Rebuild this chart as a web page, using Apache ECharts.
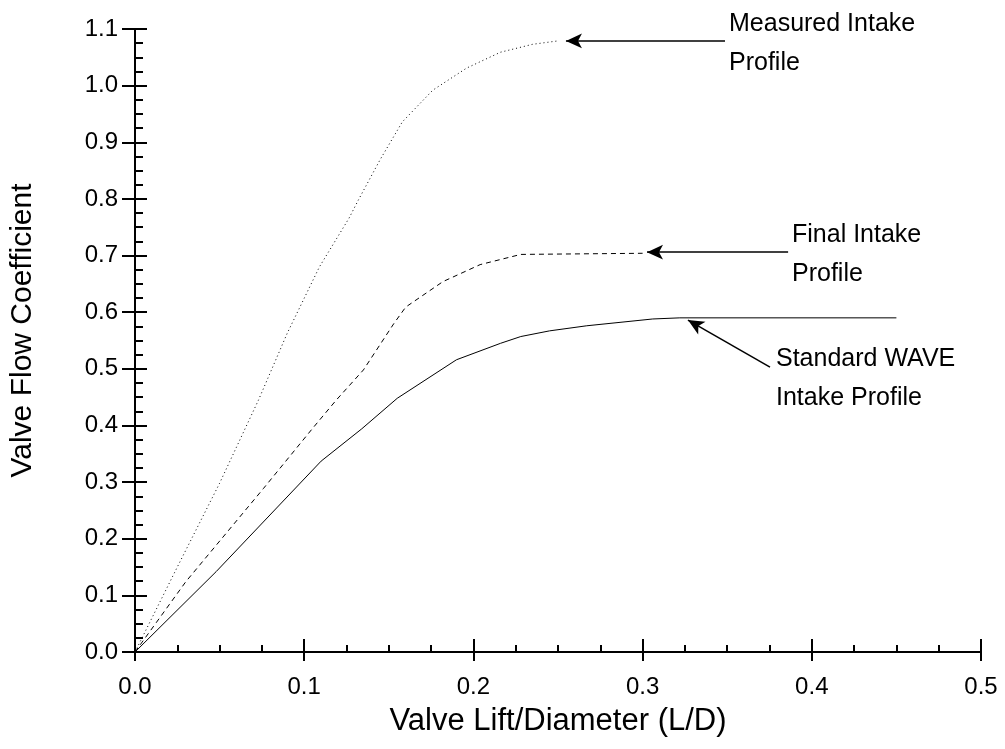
<!DOCTYPE html>
<html>
<head>
<meta charset="utf-8">
<script src="https://cdn.jsdelivr.net/npm/echarts@6/dist/echarts.min.js"></script>
<style>
html, body { margin: 0; padding: 0; background: #fff; }
#chart { width: 1005px; height: 749px; }
</style>
</head>
<body>
<div id="chart"></div>
<script>
// Valve lift / diameter (x) vs flow coefficient (y)
const measuredLD = [0, 0.025, 0.05, 0.073, 0.09, 0.109, 0.1265, 0.132, 0.145, 0.158, 0.176, 0.196, 0.216, 0.235, 0.25]
const measuredCf = [0, 0.15, 0.298, 0.445, 0.563, 0.68, 0.766, 0.798, 0.87, 0.936, 0.992, 1.031, 1.059, 1.073, 1.079]

const finalLD = [0, 0.03, 0.076, 0.105, 0.119, 0.135, 0.153, 0.16, 0.182, 0.204, 0.228, 0.30]
const finalCf = [0, 0.124, 0.289, 0.395, 0.445, 0.498, 0.58, 0.609, 0.654, 0.684, 0.702, 0.704]

const standardLD = [0, 0.048, 0.11, 0.134, 0.155, 0.19, 0.216, 0.228, 0.245, 0.267, 0.306, 0.322, 0.45]
const standardCf = [0, 0.142, 0.337, 0.394, 0.448, 0.516, 0.545, 0.557, 0.567, 0.576, 0.588, 0.59, 0.59]

// annotation arrows: [tail, tip] in data units
const arrows = [
  [[0.3487, 1.079], [0.2547, 1.079]],
  [[0.386, 0.706], [0.3026, 0.706]],
  [[0.3753, 0.503], [0.3268, 0.586]]
]
const notes = [
  { text: 'Measured Intake\nProfile', left: 729, top: 5 },
  { text: 'Final Intake\nProfile', left: 792, top: 216 },
  { text: 'Standard WAVE\nIntake Profile', left: 776, top: 340 }
]

const font = 'Liberation Sans, Arial, sans-serif'
const zip = (xs, ys) => xs.map((x, i) => [x, ys[i]])

const baseAxis = {
  type: 'value',
  splitLine: { show: false },
  axisLine: { show: true, onZero: false, lineStyle: { color: '#000', width: 2 } }
}

const option = {
  animation: false,
  backgroundColor: '#fff',
  grid: { left: 135, right: 24, top: 29, bottom: 97, outerBoundsMode: 'none' },
  xAxis: [
    {
      ...baseAxis,
      position: 'bottom',
      min: 0,
      max: 0.5,
      interval: 0.1,
      name: 'Valve Lift/Diameter (L/D)',
      nameLocation: 'middle',
      nameGap: 54,
      nameTextStyle: { fontFamily: font, fontSize: 31, color: '#000' },
      axisTick: { show: true, inside: true, length: 13, lineStyle: { color: '#000', width: 2 } },
      minorTick: { show: true, splitNumber: 4, length: 7, lineStyle: { color: '#000', width: 2 } },
      axisLabel: {
        margin: 23,
        fontFamily: font,
        fontSize: 24,
        color: '#000',
        formatter: v => v.toFixed(1)
      }
    },
    {
      ...baseAxis,
      position: 'bottom',
      min: 0,
      max: 0.5,
      interval: 0.1,
      axisLine: { show: false },
      axisTick: { show: true, inside: false, length: 9, lineStyle: { color: '#000', width: 2 } },
      axisLabel: { show: false }
    }
  ],
  yAxis: [
    {
      ...baseAxis,
      position: 'left',
      min: 0,
      max: 1.1,
      interval: 0.1,
      name: 'Valve Flow Coefficient',
      nameLocation: 'middle',
      nameGap: 97,
      nameTextStyle: { fontFamily: font, fontSize: 30, color: '#000', padding: [0, 0, 0, 20] },
      axisTick: { show: true, inside: true, length: 12, lineStyle: { color: '#000', width: 2 } },
      minorTick: { show: true, splitNumber: 4, length: 8, lineStyle: { color: '#000', width: 2 } },
      axisLabel: {
        margin: 17,
        fontFamily: font,
        fontSize: 24,
        color: '#000',
        formatter: v => v.toFixed(1)
      }
    },
    {
      ...baseAxis,
      position: 'left',
      min: 0,
      max: 1.1,
      interval: 0.1,
      axisLine: { show: false },
      axisTick: { show: true, inside: false, length: 13, lineStyle: { color: '#000', width: 2 } },
      axisLabel: { show: false }
    }
  ],
  graphic: notes.map(n => ({
    type: 'text',
    left: n.left,
    top: n.top,
    style: { text: n.text, font: '25px ' + font, fill: '#000', lineHeight: 39 }
  })),
  series: [
    {
      name: 'Measured Intake Profile',
      type: 'line',
      data: zip(measuredLD, measuredCf),
      showSymbol: false,
      symbol: 'none',
      lineStyle: { color: '#000', width: 1, type: [1, 3] },
      markLine: {
        silent: true,
        animation: false,
        symbol: ['none', 'arrow'],
        symbolSize: [11, 16],
        label: { show: false },
        lineStyle: { color: '#000', width: 1.5, type: 'solid' },
        data: arrows.map(a => [{ coord: a[0] }, { coord: a[1] }])
      }
    },
    {
      name: 'Final Intake Profile',
      type: 'line',
      data: zip(finalLD, finalCf),
      showSymbol: false,
      symbol: 'none',
      lineStyle: { color: '#000', width: 1, type: [5, 4] }
    },
    {
      name: 'Standard WAVE Intake Profile',
      type: 'line',
      data: zip(standardLD, standardCf),
      showSymbol: false,
      symbol: 'none',
      lineStyle: { color: '#000', width: 1 }
    }
  ]
}

const chart = echarts.init(document.getElementById('chart'))
chart.setOption(option)
</script>
</body>
</html>
